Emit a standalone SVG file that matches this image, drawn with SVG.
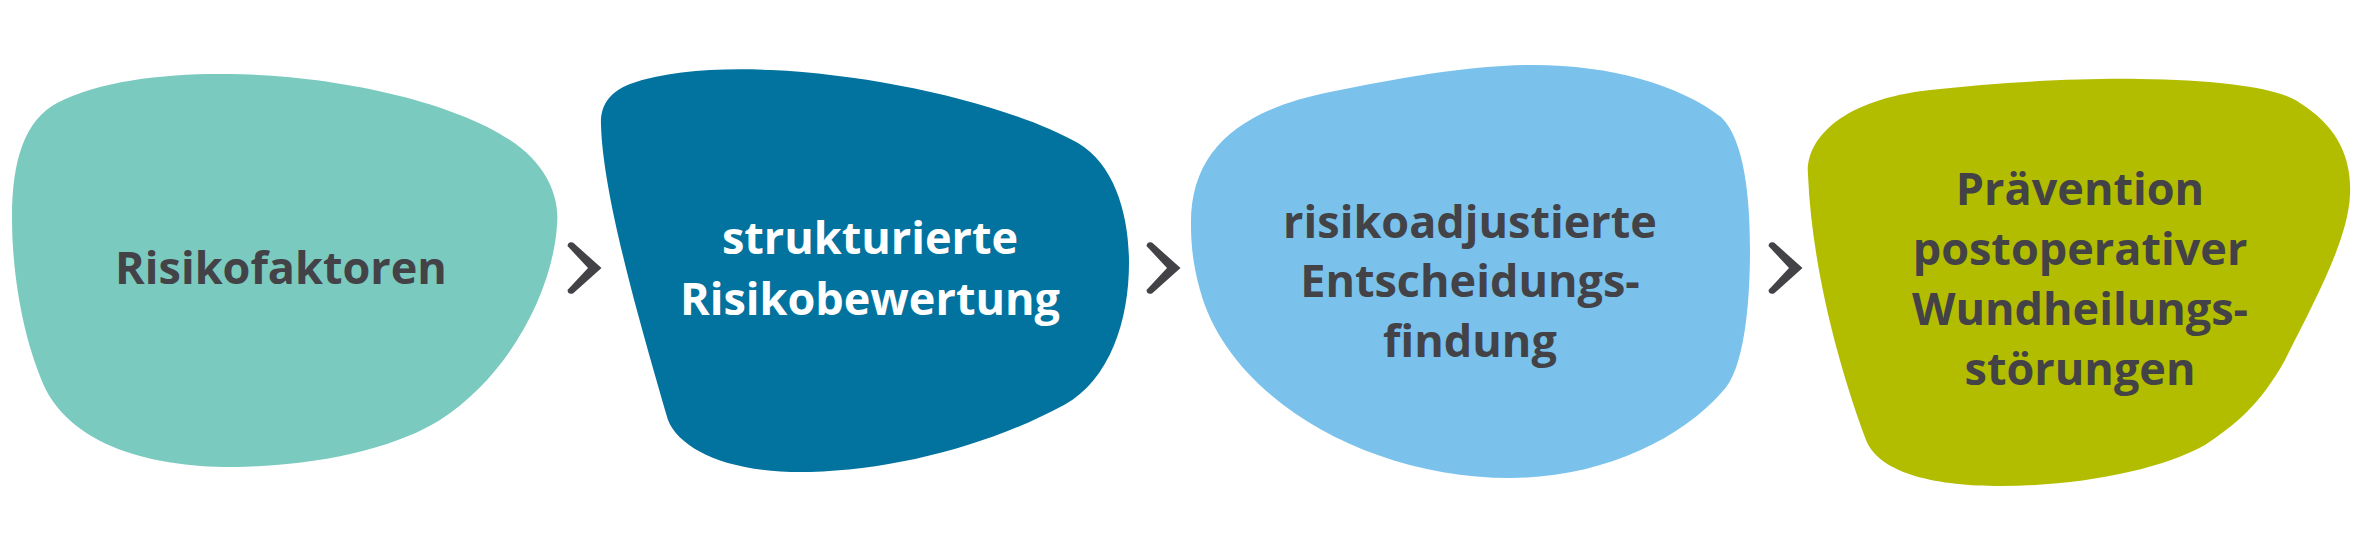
<svg xmlns="http://www.w3.org/2000/svg" width="2363" height="553" viewBox="0 0 2363 553">
<style>
.lbl{font-family:"Open Sans","Noto Sans","Liberation Sans",sans-serif;font-weight:700;font-size:45px;text-anchor:middle;fill:#434246}
.w{fill:#ffffff}
.chev{fill:#434246}
</style>
<rect width="2363" height="553" fill="#ffffff"/>
<g id="node1">
<path fill="#7BCAC0" d="M57,103 C100,80 170,73 230,74 C330,75 450,100 510,140 C545,163 560,195 557,225 C553,290 510,375 440,420 C400,445 330,465 237,467 C150,468 75,445 46,390 C25,345 12,280 12,217 C12,160 25,120 57,103 Z"/>
<text class="lbl" x="281" y="284">Risikofaktoren</text>
</g>
<g id="node2">
<path fill="#02729F" d="M601,125 C600,105 610,92 630,84 C670,70 720,68 771,70 C880,75 1010,105 1078,143 C1115,165 1129,215 1129,263 C1129,320 1110,380 1064,405 C990,445 895,470 810,472 C730,474 680,450 668,420 C645,340 603,200 601,125 Z"/>
<text class="lbl w" x="870" y="254">strukturierte</text>
<text class="lbl w" x="870" y="315">Risikobewertung</text>
</g>
<g id="node3">
<path fill="#7AC2EC" d="M1191,225 C1190,150 1240,110 1330,92 C1400,78 1470,65 1534,65 C1610,65 1680,85 1721,117 C1745,140 1750,200 1750,250 C1750,300 1745,370 1722,392 C1680,440 1600,478 1510,478 C1370,478 1230,400 1200,290 C1193,265 1191,245 1191,225 Z"/>
<text class="lbl" x="1470" y="238">risikoadjustierte</text>
<text class="lbl" x="1470" y="297">Entscheidungs-</text>
<text class="lbl" x="1470" y="357">findung</text>
</g>
<g id="node4">
<path fill="#B3BD00" d="M1808,175 C1805,140 1840,100 1930,90 C2000,82 2080,78 2140,79 C2220,80 2280,88 2300,103 C2335,125 2352,155 2350,195 C2348,240 2315,300 2285,360 C2260,405 2235,425 2205,445 C2160,470 2080,486 2000,486 C1940,486 1880,475 1866,440 C1840,370 1812,270 1808,175 Z"/>
<text class="lbl" x="2080" y="205">Prävention</text>
<text class="lbl" x="2080" y="265">postoperativer</text>
<text class="lbl" x="2080" y="325">Wundheilungs-</text>
<text class="lbl" x="2080" y="385">störungen</text>
</g>
<g id="connectors">
<path class="chev" d="M567.5,246 Q568,241 573,242.5 L601.5,268 L573,293.5 Q568,295 567.5,290 L588,268 Z"/>
<path class="chev" transform="translate(579,0)" d="M567.5,246 Q568,241 573,242.5 L601.5,268 L573,293.5 Q568,295 567.5,290 L588,268 Z"/>
<path class="chev" transform="translate(1201,0)" d="M567.5,246 Q568,241 573,242.5 L601.5,268 L573,293.5 Q568,295 567.5,290 L588,268 Z"/>
</g>
</svg>
